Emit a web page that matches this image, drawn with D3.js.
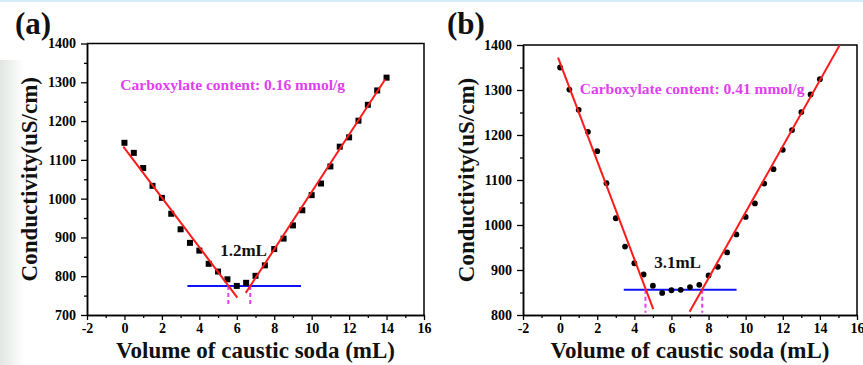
<!DOCTYPE html>
<html>
<head>
<meta charset="utf-8">
<script src="https://cdn.jsdelivr.net/npm/d3@7"></script>
<style>
  html, body { margin: 0; padding: 0; background: #fff; }
  svg { display: block; }
  text { font-family: "Liberation Serif", "Times New Roman", serif; font-weight: bold; }
</style>
</head>
<body>
<svg id="chart" width="863" height="365"></svg>
<script>
// ---- data ----
const volume = [0, 0.5, 1, 1.5, 2, 2.5, 3, 3.5, 4, 4.5, 5, 5.5, 6, 6.5, 7, 7.5, 8,
  8.5, 9, 9.5, 10, 10.5, 11, 11.5, 12, 12.5, 13, 13.5, 14];

const conductA = [1144, 1118, 1079, 1033, 1002, 961, 921, 886, 866, 832, 812, 792, 775, 783,
  801, 828, 870, 897, 931, 970, 1009, 1039, 1083, 1134, 1158, 1201, 1242, 1279, 1312];

const conductB = [1350, 1301, 1256, 1207, 1164, 1093, 1015, 952, 915, 890, 865, 849, 855, 856,
  862, 867, 888, 907, 939, 979, 1018, 1048, 1092, 1124, 1167, 1211, 1251, 1290, 1324];

// fitted lines [x, y] endpoints
const fitLeftA = [[-0.06, 1134], [6.03, 745]];
const fitRightA = [[6.48, 757], [13.92, 1307]];
const plateauA = [[3.36, 775], [9.43, 775]];
const dropsA = [5.55, 6.72];

const fitLeftB = [[-0.11, 1372], [5.02, 813]];
const fitRightB = [[6.98, 807], [15.07, 1400]];
const plateauB = [[3.43, 856], [9.51, 856]];
const dropsB = [4.6, 7.66];

const xTicks = [-2, 0, 2, 4, 6, 8, 10, 12, 14, 16];
const xMinor = [-1, 1, 3, 5, 7, 9, 11, 13, 15];
const yTicksA = [700, 800, 900, 1000, 1100, 1200, 1300, 1400];
const yMinorA = [750, 850, 950, 1050, 1150, 1250, 1350];
const yTicksB = [800, 900, 1000, 1100, 1200, 1300, 1400];
const yMinorB = [850, 950, 1050, 1150, 1250, 1350];

const svg = d3.select('#chart');

// faint page edges from the scanned figure
const defs = svg.append('defs');
const grad = defs.append('linearGradient').attr('id', 'edge').attr('x1', 0).attr('x2', 1);
grad.append('stop').attr('offset', '0%').attr('stop-color', '#e2e6e1');
grad.append('stop').attr('offset', '100%').attr('stop-color', '#ffffff');
svg.append('rect').attr('x', 0).attr('y', 0).attr('width', 863).attr('height', 365).attr('fill', '#fff');
svg.append('rect').attr('x', 0).attr('y', 60).attr('width', 24).attr('height', 305).attr('fill', 'url(#edge)');
svg.append('rect').attr('x', 0).attr('y', 0).attr('width', 863).attr('height', 2).attr('fill', '#d4ecf7');

const plain = d => String(d);

function drawPanel(opt) {
  const x = d3.scaleLinear().domain([-2, 16]).range([opt.left, opt.right]);
  const y = d3.scaleLinear().domain(opt.yDomain).range([opt.bottom, opt.top]);
  const g = svg.append('g');

  const clipId = 'clip-' + opt.tag;
  defs.append('clipPath').attr('id', clipId)
    .append('rect')
    .attr('x', opt.left).attr('y', opt.top)
    .attr('width', opt.right - opt.left).attr('height', opt.bottom - opt.top);

  // axes
  g.append('g')
    .attr('transform', `translate(0,${opt.bottom})`)
    .call(d3.axisBottom(x).tickValues(xTicks).tickSize(5).tickSizeOuter(0).tickPadding(3).tickFormat(plain));
  g.append('g')
    .attr('transform', `translate(0,${opt.bottom})`)
    .call(d3.axisBottom(x).tickValues(xMinor).tickSize(3).tickSizeOuter(0).tickFormat(''));
  g.append('g')
    .attr('transform', `translate(${opt.left},0)`)
    .call(d3.axisLeft(y).tickValues(opt.yTicks).tickSize(6).tickSizeOuter(0).tickPadding(5).tickFormat(plain));
  g.append('g')
    .attr('transform', `translate(${opt.left},0)`)
    .call(d3.axisLeft(y).tickValues(opt.yMinor).tickSize(3).tickSizeOuter(0).tickFormat(''));

  g.selectAll('.domain').attr('stroke', '#000').attr('stroke-width', 1.5);
  g.selectAll('.tick line').attr('stroke', '#000').attr('stroke-width', 1.3);
  g.selectAll('.tick text')
    .attr('fill', '#000')
    .style('font-family', '"Liberation Serif", serif')
    .style('font-weight', 'bold')
    .style('font-size', '14px');

  // top and right frame
  g.append('path')
    .attr('d', `M${opt.left},${opt.top}H${opt.right}V${opt.bottom}`)
    .attr('fill', 'none').attr('stroke', '#000').attr('stroke-width', 1.5);

  // axis titles
  g.append('text')
    .attr('x', (opt.left + opt.right) / 2).attr('y', 358)
    .attr('text-anchor', 'middle')
    .style('font-size', '23px').attr('fill', '#111')
    .text('Volume of caustic soda (mL)');
  g.append('text')
    .attr('transform', `translate(${opt.yTitleX},${(opt.top + opt.bottom) / 2}) rotate(-90)`)
    .attr('text-anchor', 'middle')
    .style('font-size', '23px').attr('fill', '#111')
    .text('Conductivity(uS/cm)');

  // panel tag
  g.append('text')
    .attr('x', opt.tagX).attr('y', 34)
    .style('font-size', '31px').attr('fill', '#111')
    .text(`(${opt.tag})`);

  const plot = g.append('g').attr('clip-path', `url(#${clipId})`);
  const line = d3.line().x(d => x(d[0])).y(d => y(d[1]));

  // plateau line
  plot.append('path').attr('d', line(opt.plateau))
    .attr('stroke', '#1010ff').attr('stroke-width', 2).attr('fill', 'none');

  // drop lines to the equivalence points
  plot.selectAll('.drop')
    .data(opt.drops)
    .join('line')
    .attr('x1', d => x(d)).attr('x2', d => x(d))
    .attr('y1', y(opt.plateau[0][1])).attr('y2', y(opt.dropTo))
    .attr('stroke', '#e040f0').attr('stroke-width', 2)
    .attr('stroke-dasharray', '4,3');

  // markers
  const pts = volume.map((v, i) => [v, opt.values[i]]);
  if (opt.marker === 'square') {
    plot.selectAll('.pt').data(pts).join('rect')
      .attr('x', d => x(d[0]) - 3).attr('y', d => y(d[1]) - 3)
      .attr('width', 6).attr('height', 6).attr('fill', '#000');
  } else {
    plot.selectAll('.pt').data(pts).join('circle')
      .attr('cx', d => x(d[0])).attr('cy', d => y(d[1]))
      .attr('r', 2.9).attr('fill', '#000');
  }

  // fit lines
  [opt.fitLeft, opt.fitRight].forEach(f => {
    plot.append('path').attr('d', line(f))
      .attr('stroke', '#ff1a1a').attr('stroke-width', 2).attr('fill', 'none');
  });

  // annotations
  g.append('text')
    .attr('x', x(opt.noteX)).attr('y', y(opt.noteY))
    .style('font-size', '15.5px').attr('fill', '#e040f0')
    .text(opt.note);
  g.append('text')
    .attr('x', x(opt.gapX)).attr('y', y(opt.gapY))
    .attr('text-anchor', 'middle')
    .style('font-size', '17px').attr('fill', '#111')
    .text(opt.gap);
}

drawPanel({
  tag: 'a', tagX: 15, yTitleX: 37,
  left: 87, right: 424, top: 43.5, bottom: 315,
  yDomain: [700, 1400], yTicks: yTicksA, yMinor: yMinorA,
  values: conductA, marker: 'square',
  fitLeft: fitLeftA, fitRight: fitRightA, plateau: plateauA,
  drops: dropsA, dropTo: 722,
  note: 'Carboxylate content: 0.16 mmol/g', noteX: -0.22, noteY: 1280,
  gap: '1.2mL', gapX: 6.36, gapY: 851
});

drawPanel({
  tag: 'b', tagX: 447, yTitleX: 474,
  left: 523, right: 857, top: 45, bottom: 315,
  yDomain: [800, 1400], yTicks: yTicksB, yMinor: yMinorB,
  values: conductB, marker: 'circle',
  fitLeft: fitLeftB, fitRight: fitRightB, plateau: plateauB,
  drops: dropsB, dropTo: 805,
  note: 'Carboxylate content: 0.41 mmol/g', noteX: 1.06, noteY: 1292,
  gap: '3.1mL', gapX: 6.33, gapY: 904
});
</script>
</body>
</html>
